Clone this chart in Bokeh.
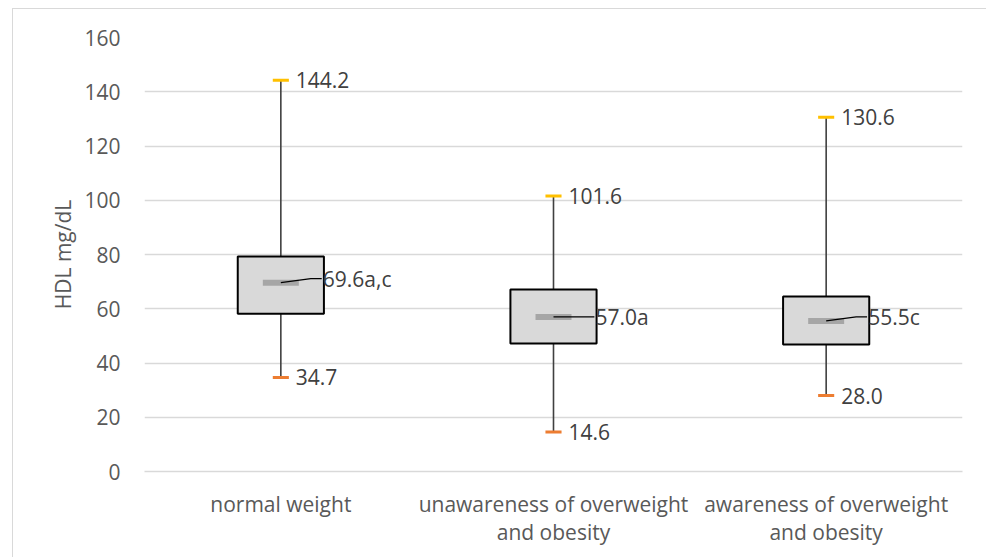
import numpy as np
from bokeh.plotting import figure
from bokeh.models import Range1d, FixedTicker, ColumnDataSource
from bokeh.core.properties import value
from bokeh.embed import file_html
from bokeh.resources import INLINE

categories = ["normal weight", "unawareness of overweight\nand obesity", "awareness of overweight\nand obesity"]
q1 = [58.2, 47.2, 46.8]
q3 = [79.3, 67.1, 64.5]
median = [69.6, 57.0, 55.5]
maximum = [144.2, 101.6, 130.6]
minimum = [34.7, 14.6, 28.0]
median_labels = ["69.6a,c", "57.0a", "55.5c"]
max_labels = ["144.2", "101.6", "130.6"]
min_labels = ["34.7", "14.6", "28.0"]
y_ticks = [0, 20, 40, 60, 80, 100, 120, 140, 160]

# style offsets for median labels (pixels)
median_label_dy = [-4, 0, -4]

FONT = "Open Sans"
FS = "21px"
xs = np.arange(len(categories)) + 0.5

p = figure(width=974, height=549, output_backend="svg", toolbar_location=None,
           x_range=Range1d(0, 3), y_range=Range1d(0, 160),
           min_border_left=131, min_border_right=25, min_border_top=28, min_border_bottom=87)
p.margin = (8, 0, 0, 12)
p.styles = {"border-left": "1px solid #d9d9d9", "border-top": "1px solid #d9d9d9"}
p.outline_line_color = None
p.background_fill_color = "white"

# grid
p.xgrid.grid_line_color = None
p.ygrid.grid_line_color = "#d9d9d9"
p.ygrid.grid_line_width = 1.3
p.ygrid.ticker = FixedTicker(ticks=y_ticks)

# axes
p.yaxis.ticker = FixedTicker(ticks=y_ticks)
p.yaxis.axis_line_color = None
p.yaxis.major_tick_line_color = None
p.yaxis.minor_tick_line_color = None
p.yaxis.major_label_standoff = 18
p.yaxis.major_label_text_font = FONT
p.yaxis.major_label_text_font_size = FS
p.yaxis.major_label_text_color = "#595959"
p.yaxis.axis_label = "HDL mg/dL"
p.yaxis.axis_label_text_font = FONT
p.yaxis.axis_label_text_font_size = FS
p.yaxis.axis_label_text_font_style = "normal"
p.yaxis.axis_label_text_color = "#595959"
p.yaxis.axis_label_standoff = 4

p.xaxis.ticker = FixedTicker(ticks=list(xs))
p.xaxis.major_label_overrides = {float(x): c for x, c in zip(xs, categories)}
p.xaxis.axis_line_color = "#d9d9d9"
p.xaxis.axis_line_width = 1.3
p.xaxis.major_tick_line_color = None
p.xaxis.minor_tick_line_color = None
p.xaxis.major_label_standoff = 12
p.xaxis.major_label_text_font = FONT
p.xaxis.major_label_text_font_size = FS
p.xaxis.major_label_text_color = "#595959"
p.xaxis.major_label_text_align = "center"
p.xaxis.major_label_text_line_height = 1.0

src = ColumnDataSource(dict(x=xs, q1=q1, q3=q3, med=median, mx=maximum, mn=minimum,
                            medlab=median_labels, maxlab=max_labels, minlab=min_labels,
                            dy=median_label_dy))

# whiskers
p.segment(x0="x", y0="q3", x1="x", y1="mx", source=src, line_color="#404040", line_width=1.6)
p.segment(x0="x", y0="mn", x1="x", y1="q1", source=src, line_color="#404040", line_width=1.6)

# boxes
p.vbar(x="x", top="q3", bottom="q1", width=0.316, source=src,
       fill_color="#d9d9d9", line_color="black", line_width=2)

# median marker
p.rect(x="x", y="med", width=0.132, height=6, height_units="screen", source=src,
       fill_color="#a6a6a6", line_color=None)

# caps
p.rect(x="x", y="mx", width=0.059, height=3, height_units="screen", source=src,
       fill_color="#ffc000", line_color=None)
p.rect(x="x", y="mn", width=0.059, height=3, height_units="screen", source=src,
       fill_color="#ed7d31", line_color=None)

# leader lines for median labels
lx, ly = [], []
for x, m, dy in zip(xs, median, median_label_dy):
    dyv = -dy / 2.7125
    lx.append([x, x + 0.11, x + 0.15])
    ly.append([m, m + dyv, m + dyv])
p.multi_line(xs=lx, ys=ly, line_color="black", line_width=1.2)

# labels
p.text(x="x", y="mx", text="maxlab", source=src, x_offset=15, text_baseline="middle",
       text_font=value(FONT), text_font_size=FS, text_color="#404040")
p.text(x="x", y="mn", text="minlab", source=src, x_offset=15, text_baseline="middle",
       text_font=value(FONT), text_font_size=FS, text_color="#404040")
p.text(x="x", y="med", text="medlab", source=src, x_offset=42, y_offset="dy", text_baseline="middle",
       text_font=value(FONT), text_font_size=FS, text_color="#404040")

open("out.html", "w").write(file_html(p, INLINE))
